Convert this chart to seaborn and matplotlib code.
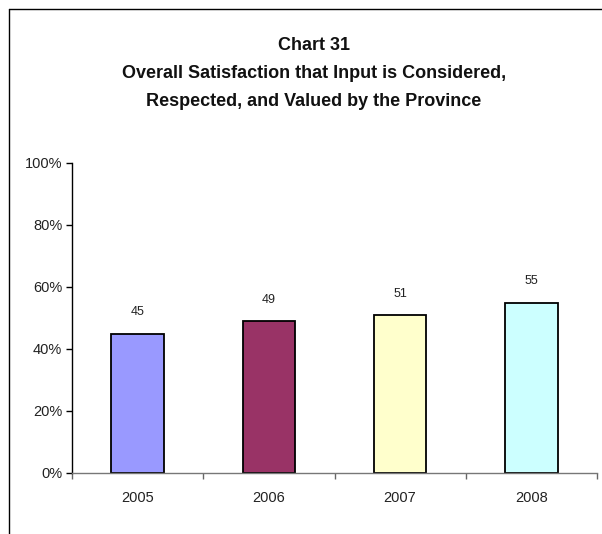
import matplotlib
matplotlib.use("Agg")
import matplotlib.pyplot as plt
import seaborn as sns
import pandas as pd
from matplotlib.lines import Line2D
from matplotlib.ticker import FuncFormatter, FixedLocator

years = ["2005", "2006", "2007", "2008"]
values = [45, 49, 51, 55]
colors = ["#9999FF", "#993366", "#FFFFCC", "#CCFFFF"]
yticks = [0, 20, 40, 60, 80, 100]
title_lines = ["Chart 31",
               "Overall Satisfaction that Input is Considered,",
               "Respected, and Valued by the Province"]

sns.set_theme(style="white")
plt.rcParams["font.family"] = ["Liberation Sans", "DejaVu Sans"]

fig = plt.figure(figsize=(6.02, 5.34), dpi=100)
ax = fig.add_axes([72/602, 1-473/534, (597-72)/602, 310/534])

df = pd.DataFrame({"year": years, "value": values})
sns.barplot(data=df, x="year", y="value", hue="year", palette=colors,
            width=0.4, edgecolor="black", linewidth=1.3, legend=False, ax=ax,
            saturation=1)

for c in ax.containers:
    ax.bar_label(c, labels=[f"{int(round(v))}" for v in c.datavalues], padding=11,
                 fontsize=9, color="#222222")

ax.set_ylim(0, 100)
ax.set_xlim(-0.5, 3.5)
ax.set_yticks(yticks)
ax.yaxis.set_major_formatter(FuncFormatter(lambda v, p: f"{int(v)}%"))
ax.xaxis.set_minor_locator(FixedLocator([-0.5, 0.5, 1.5, 2.5, 3.5]))
ax.tick_params(axis="x", which="major", length=0, pad=13, labelsize=10.5, labelcolor="#222222")
ax.tick_params(axis="x", which="minor", length=4, width=1, color="#666666", bottom=True)
ax.tick_params(axis="y", length=4, width=1, color="black", left=True, pad=3,
               labelsize=10.5, labelcolor="#222222")
ax.set_xlabel("")
ax.set_ylabel("")
for s in ["top", "right"]:
    ax.spines[s].set_visible(False)
ax.spines["left"].set_color("black")
ax.spines["left"].set_linewidth(1)
ax.spines["bottom"].set_color("#777777")
ax.spines["bottom"].set_linewidth(1)

ys = [46, 74, 101]
for t, y in zip(title_lines, ys):
    fig.text(314/602, 1 - y/534, t, ha="center", va="center", fontsize=13,
             fontweight="bold", color="#111111")

fig.add_artist(Line2D([9/602, 9/602], [0, 1 - 9/534], transform=fig.transFigure,
                      color="black", linewidth=1))
fig.add_artist(Line2D([9/602, 1], [1 - 9/534, 1 - 9/534], transform=fig.transFigure,
                      color="black", linewidth=1))

fig.savefig("out.png", dpi=100, facecolor="white")
